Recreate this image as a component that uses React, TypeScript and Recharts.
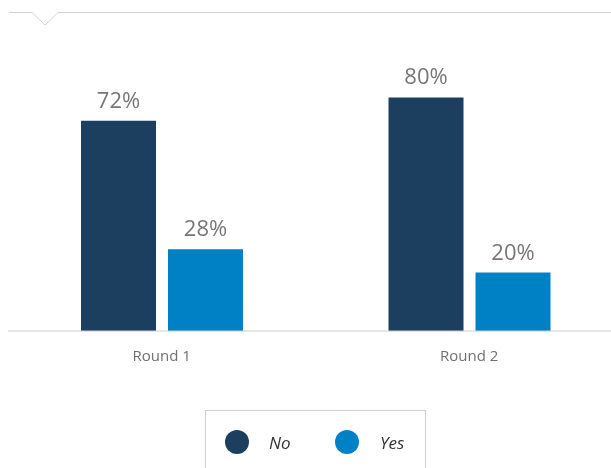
import { BarChart, Bar, XAxis, YAxis, LabelList } from "recharts";

const rounds = ["Round 1", "Round 2"];
const noShare = [72, 80];
const yesShare = [28, 20];
const seriesNames = ["No", "Yes"];

const NAVY = "#1c3f5f";
const BLUE = "#0081c6";
const FONT = "'Open Sans', 'Noto Sans', sans-serif";

const data = rounds.map((round, i) => ({
    round,
    No: noShare[i],
    Yes: yesShare[i],
}));

function Divider() {
    // thin rule across the top with a small downward notch
    return (
        <svg
            width={603}
            height={24}
            style={{ position: "absolute", left: 0, top: 0 }}
        >
            <polyline
                points="1,4.5 24,4.5 37,17 50,4.5 603,4.5"
                fill="none"
                stroke="#d3d3d3"
                strokeWidth={1}
            />
        </svg>
    );
}

function LegendBox() {
    const colors = [NAVY, BLUE];
    return (
        <div
            style={{
                position: "absolute",
                left: 197,
                top: 402,
                width: 219,
                height: 80,
                border: "1px solid #cfcfcf",
                fontFamily: FONT,
            }}
        >
            {seriesNames.map((name, i) => (
                <div
                    key={name}
                    style={{
                        position: "absolute",
                        left: i === 0 ? 19 : 129,
                        top: 19,
                        display: "flex",
                        alignItems: "center",
                    }}
                >
                    <span
                        style={{
                            width: 24,
                            height: 24,
                            borderRadius: "50%",
                            background: colors[i],
                            display: "inline-block",
                        }}
                    />
                    <span
                        style={{
                            marginLeft: i === 0 ? 20 : 21,
                            fontSize: 17,
                            fontStyle: "italic",
                            color: "#333",
                        }}
                    >
                        {name}
                    </span>
                </div>
            ))}
        </div>
    );
}

const pct = (v: unknown) => `${v}%`;

export default function App() {
    // fixed frame so the clipped edges never trigger page scrollbars
    return (
        <div
            style={{
                position: "fixed",
                left: 8,
                top: 8,
                width: 603,
                height: 460,
                overflow: "hidden",
                fontFamily: FONT,
            }}
        >
            <Divider />
            <div style={{ position: "absolute", left: 0, top: 0 }}>
                <BarChart
                    width={615}
                    height={368}
                    data={data}
                    margin={{ top: 31, right: 0, left: 0, bottom: 0 }}
                    barGap={12}
                >
                    <XAxis
                        dataKey="round"
                        axisLine={{ stroke: "#cccccc" }}
                        tickLine={false}
                        height={45}
                        tickMargin={13}
                        tick={{ fontSize: 15, fill: "#707070", fontFamily: FONT }}
                    />
                    <YAxis hide domain={[0, 100]} />
                    <Bar dataKey="No" fill={NAVY} barSize={75} isAnimationActive={false}>
                        <LabelList
                            dataKey="No"
                            position="top"
                            offset={13}
                            formatter={pct}
                            style={{ fontSize: 22, fill: "#777", fontFamily: FONT }}
                        />
                    </Bar>
                    <Bar dataKey="Yes" fill={BLUE} barSize={75} isAnimationActive={false}>
                        <LabelList
                            dataKey="Yes"
                            position="top"
                            offset={13}
                            formatter={pct}
                            style={{ fontSize: 22, fill: "#777", fontFamily: FONT }}
                        />
                    </Bar>
                </BarChart>
            </div>
            <LegendBox />
        </div>
    );
}
